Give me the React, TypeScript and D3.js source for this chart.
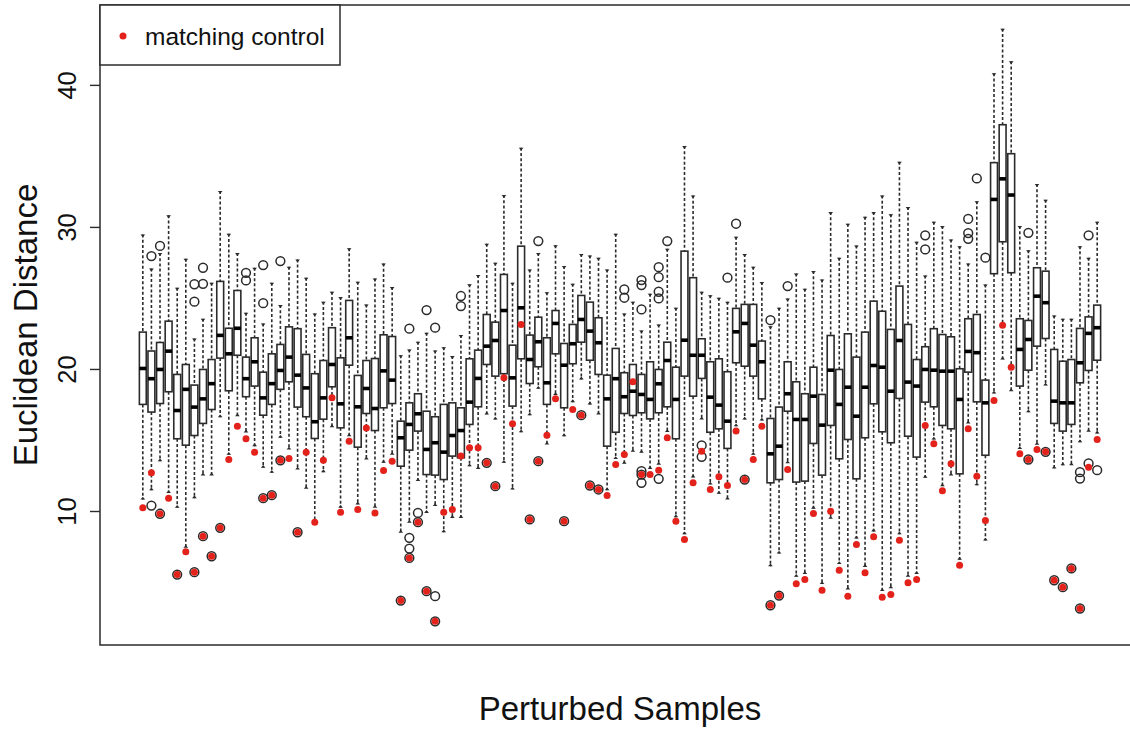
import React from "react";
import * as d3 from "d3";

const width = 1130,
  height = 729;
const plotLeft = 100,
  plotRight = 1140,
  plotTop = 5,
  plotBottom = 645;

const fontFamily = "'Liberation Sans', Arial, Helvetica, sans-serif";
const ink = "#2b2b2b";
const red = "#e3221c";

// one entry per perturbed sample, left to right
const whiskerHigh = [
  29.5, 27.1, 28.2, 30.85, 25.75, 27.8, 22.18, 23.57, 26.1, 32.56,
  29.55, 28.2, 24.0, 27.16, 23.24, 26.1, 24.53, 27.23, 27.75, 26.46,
  23.94, 24.77, 25.47, 25.1, 28.54, 26.17, 24.58, 26.41, 27.46, 25.8,
  21.0, 21.4, 21.95, 22.58, 21.34, 21.57, 20.94, 22.42, 26.0, 26.65,
  28.85, 27.51, 32.28, 26.1, 35.61, 27.04, 28.2, 25.44, 28.75, 27.28,
  26.03, 28.13, 28.03, 27.87, 27.04, 29.55, 23.94, 24.77, 22.75, 25.33,
  23.17, 28.5, 24.34, 35.73, 32.25, 25.47, 25.23, 25.05, 24.77, 29.34,
  28.13, 27.23, 26.15, 23.05, 24.34, 25.0, 26.76, 25.68, 26.93, 26.34,
  31.08, 27.87, 30.26, 28.73, 30.75, 31.08, 32.25, 30.92, 34.63, 31.43,
  28.99, 26.62, 30.4, 30.1, 29.15, 28.68, 27.46, 31.85, 25.99, 40.85,
  43.99, 41.69, 30.1, 28.4, 33.06, 31.95, 23.8, 23.57, 23.57, 28.68,
  27.87, 30.4,
];

const upperQuartile = [
  22.63, 21.3, 21.9, 23.4, 19.65, 20.35, 18.9, 20.0, 20.7, 26.2,
  22.9, 25.56, 20.87, 22.23, 19.81, 21.1, 21.76, 23.0, 22.87, 21.06,
  19.7, 20.63, 22.94, 20.82, 24.86, 19.58, 20.63, 20.77, 22.44, 22.32,
  16.36, 17.65, 18.29, 17.06, 16.67, 17.54, 17.65, 17.3, 20.75, 21.36,
  23.87, 23.33, 26.69, 21.71, 28.68, 22.42, 23.68, 22.23, 24.15, 21.83,
  23.17, 25.21, 24.74, 23.64, 19.6, 21.48, 19.77, 20.35, 19.65, 20.54,
  20.0, 21.92, 20.16, 28.33, 26.46, 22.16, 20.54, 20.75, 19.84, 24.3,
  24.58, 24.58, 22.0, 16.55, 17.35, 20.54, 19.13, 18.29, 20.16, 18.24,
  22.39, 20.0, 22.51, 20.87, 22.63, 24.81, 24.1, 22.82, 25.87, 23.17,
  20.7, 21.6, 22.87, 22.46, 22.3, 20.05, 23.57, 23.87, 19.25, 34.56,
  37.23, 35.19, 23.57, 23.45, 27.16, 26.92, 21.41, 20.58, 20.7, 22.89,
  23.7, 24.53,
];

const medians = [
  20.07, 19.35, 20.0, 21.29, 17.11, 18.6, 17.35, 17.93, 19.0, 22.4,
  21.1, 22.9, 19.35, 20.54, 18.0, 19.0, 19.93, 20.87, 19.6, 18.7,
  16.32, 18.0, 20.35, 17.58, 22.23, 17.37, 18.66, 17.25, 19.9, 19.25,
  15.19, 16.13, 16.88, 14.37, 14.84, 14.18, 15.35, 15.7, 17.7, 19.37,
  21.64, 22.04, 24.15, 19.41, 24.34, 20.7, 21.95, 19.06, 23.24, 20.3,
  21.81, 23.52, 22.7, 21.88, 17.93, 19.35, 18.08, 18.47, 18.24, 17.89,
  18.99, 20.63, 17.89, 22.06, 21.0, 21.0, 18.05, 17.49, 16.36, 22.65,
  23.24, 21.71, 20.54, 14.06, 14.6, 18.29, 16.48, 16.48, 18.12, 16.08,
  19.95, 17.54, 18.75, 16.71, 18.75, 20.28, 20.16, 18.47, 22.04, 19.11,
  18.83, 20.0, 19.95, 19.88, 19.88, 17.89, 21.27, 21.18, 17.65, 31.97,
  33.42, 32.28, 21.41, 22.11, 25.16, 24.7, 17.77, 17.65, 17.65, 20.47,
  22.54, 22.94,
];

const lowerQuartile = [
  17.54, 17.0, 17.6, 18.43, 15.12, 14.67, 15.35, 16.2, 17.18, 20.8,
  18.5, 21.0, 18.08, 18.83, 16.78, 17.54, 18.6, 19.13, 17.35, 16.67,
  15.14, 16.5, 18.78, 15.89, 20.3, 14.53, 16.9, 15.7, 17.3, 17.6,
  13.19, 14.32, 15.66, 12.6, 12.56, 12.25, 13.9, 13.78, 16.13, 17.37,
  20.35, 19.53, 19.7, 17.42, 20.75, 19.01, 20.19, 17.54, 21.1, 17.3,
  20.4, 21.92, 20.65, 19.65, 14.6, 15.58, 16.9, 16.76, 16.95, 16.52,
  16.95, 17.37, 15.12, 19.53, 18.12, 19.37, 15.58, 15.82, 14.44, 20.47,
  20.23, 19.53, 17.93, 12.02, 12.25, 17.06, 12.07, 12.14, 14.79, 12.56,
  16.06, 13.71, 15.07, 12.3, 15.19, 17.58, 15.61, 14.84, 17.96, 15.3,
  13.83, 17.7, 17.37, 16.06, 15.82, 12.65, 19.81, 17.72, 13.96, 26.74,
  28.99, 26.81, 18.83, 19.95, 21.64, 22.18, 16.2, 15.66, 16.13, 19.06,
  19.93, 20.65,
];

const whiskerLow = [
  10.85, 11.5, 13.54, 11.3, 10.26, 7.44, 10.94, 12.54, 12.54, 16.64,
  14.0, 16.7, 15.56, 14.6, 13.08, 12.72, 15.19, 14.37, 12.96, 11.6,
  9.1, 12.77, 15.94, 10.26, 15.3, 10.5, 13.66, 10.26, 13.43, 14.0,
  8.5, 9.2, 12.14, 9.9, 10.38, 8.54, 9.55, 9.55, 13.19, 13.0,
  16.83, 16.48, 13.43, 11.55, 15.58, 16.78, 18.64, 14.72, 18.2, 15.3,
  17.7, 19.3, 17.54, 16.83, 11.5, 13.7, 13.36, 14.2, 14.13, 13.0,
  13.3, 15.6, 9.6, 8.4, 12.4, 16.48, 11.9, 11.25, 10.85, 16.0,
  16.48, 14.0, 16.4, 6.15, 7.04, 13.4, 5.4, 5.6, 10.2, 4.9,
  9.49, 6.3, 4.5, 8.1, 6.1, 8.6, 4.4, 4.6, 8.4, 5.4,
  5.6, 12.37, 15.07, 11.78, 12.54, 6.6, 16.2, 11.85, 7.96, 18.3,
  20.7, 18.47, 14.4, 16.99, 14.7, 18.87, 13.03, 13.26, 13.26, 14.88,
  15.61, 15.5,
];

const outliers = [
  [], [27.98, 10.42], [28.7, 9.84], [], [5.56], [], [26.0, 24.77, 5.73], [27.16, 26.03, 8.26], [6.85], [8.85],
  [], [], [26.8, 26.27], [], [27.35, 24.67, 10.94], [11.15], [27.63, 13.6], [], [8.54], [],
  [], [], [], [], [], [], [], [], [], [],
  [3.73], [22.87, 8.15, 7.39, 6.73], [9.9, 9.25], [24.18, 4.39], [22.94, 4.04, 2.27], [], [], [25.17, 24.46], [], [],
  [13.43], [11.78], [], [], [], [9.44], [29.04, 13.54], [], [], [9.32],
  [], [16.78], [11.83], [11.55], [], [], [25.63, 25.05], [], [26.29, 25.94, 24.23, 12.84, 12.6, 12.02], [],
  [27.2, 26.5, 25.47, 25.0, 12.3], [29.04], [], [], [], [14.65, 13.85], [], [], [26.46], [30.26],
  [12.25], [], [], [23.47, 3.4], [4.08], [25.87], [], [], [], [],
  [], [], [], [], [], [], [], [], [], [],
  [], [29.44, 28.45], [], [], [], [], [30.6, 29.6, 29.2], [33.45], [27.87], [],
  [], [], [], [29.62, 13.66], [], [14.2], [5.16], [4.67], [5.99], [12.77, 12.32, 3.17],
  [29.44, 13.38], [12.91],
];

const matchingControl = [
  10.26, 12.72, 9.84, 10.94, 5.56, 7.16, 5.73, 8.26, 6.85, 8.85,
  13.66, 16.0, 15.12, 14.18, 10.94, 11.15, 13.6, 13.73, 8.54, 14.18,
  9.25, 13.61, 18.0, 9.95, 14.95, 10.14, 15.87, 9.9, 12.89, 13.54,
  3.73, 6.73, 9.25, 4.39, 2.27, 9.95, 10.14, 13.9, 14.48, 14.48,
  13.43, 11.78, 19.41, 16.17, 23.17, 9.44, 13.54, 15.37, 17.93, 9.32,
  17.18, 16.78, 11.83, 11.55, 11.13, 13.31, 14.01, 19.13, 12.6, 12.6,
  12.91, 15.19, 9.32, 8.03, 12.02, 14.25, 11.55, 12.44, 11.83, 15.66,
  12.25, 13.66, 16.0, 3.4, 4.08, 12.96, 4.91, 5.21, 9.86, 4.46,
  10.02, 5.87, 4.04, 7.68, 5.68, 8.22, 3.96, 4.15, 7.98, 4.98,
  5.21, 16.06, 14.77, 11.46, 13.36, 6.22, 15.82, 12.49, 9.37, 17.82,
  23.12, 20.16, 14.06, 13.66, 14.37, 14.2, 5.16, 4.67, 5.99, 3.17,
  13.12, 15.07,
];

const yTicks = [10, 20, 30, 40];

const n = medians.length;
const samples = d3.range(1, n + 1);

// R-style axis padding: 4% on each side
const x = d3
  .scaleLinear()
  .domain([0.5 - 0.04 * n, n + 0.5 + 0.04 * n])
  .range([plotLeft, plotRight]);

const allValues = [
  ...whiskerHigh,
  ...whiskerLow,
  ...outliers.flat(),
  ...matchingControl,
];
const [yMin, yMax] = d3.extent(allValues) as [number, number];
const yPad = (yMax - yMin) * 0.04;
const y = d3
  .scaleLinear()
  .domain([yMin - yPad, yMax + yPad])
  .range([plotBottom, plotTop]);

const boxWidth = 0.8 * (x(2) - x(1));
const stapleHalf = boxWidth * 0.34;

function BoxPlot({ i }: { i: number }) {
  const cx = x(samples[i]);
  const left = cx - boxWidth / 2;
  const yHi = y(whiskerHigh[i]);
  const yLo = y(whiskerLow[i]);
  const yQ3 = y(upperQuartile[i]);
  const yQ1 = y(lowerQuartile[i]);
  const yMed = y(medians[i]);
  return (
    <g>
      <line
        x1={cx}
        x2={cx}
        y1={yHi}
        y2={yQ3}
        stroke={ink}
        strokeWidth={1.6}
        strokeDasharray="3,2.2"
      />
      <line
        x1={cx}
        x2={cx}
        y1={yQ1}
        y2={yLo}
        stroke={ink}
        strokeWidth={1.6}
        strokeDasharray="3,2.2"
      />
      <path
        d={`M${cx - stapleHalf},${yHi}L${cx + stapleHalf},${yHi}L${cx},${yHi + 2.8}Z`}
        fill={ink}
      />
      <path
        d={`M${cx - stapleHalf},${yLo}L${cx + stapleHalf},${yLo}L${cx},${yLo - 2.8}Z`}
        fill={ink}
      />
      <rect
        x={left}
        y={yQ3}
        width={boxWidth}
        height={yQ1 - yQ3}
        fill="white"
        stroke={ink}
        strokeWidth={1.6}
      />
      <line
        x1={left}
        x2={left + boxWidth}
        y1={yMed}
        y2={yMed}
        stroke="#000"
        strokeWidth={3.6}
      />
      {outliers[i].map((v, k) => (
        <circle
          key={k}
          cx={cx}
          cy={y(v)}
          r={4.4}
          fill="none"
          stroke={ink}
          strokeWidth={1.5}
        />
      ))}
    </g>
  );
}

export default function App() {
  return (
    <div style={{ position: "absolute", left: 0, top: 0 }}>
      <svg
        width={width}
        height={height}
        style={{ display: "block", background: "white" }}
        fontFamily={fontFamily}
      >
        {samples.map((_, i) => (
          <BoxPlot key={i} i={i} />
        ))}

        {matchingControl.map((v, i) => (
          <circle key={i} cx={x(samples[i])} cy={y(v)} r={3.5} fill={red} />
        ))}

        {/* frame */}
        <rect
          x={plotLeft}
          y={plotTop}
          width={plotRight - plotLeft}
          height={plotBottom - plotTop}
          fill="none"
          stroke={ink}
          strokeWidth={1.5}
        />

        {/* y axis ticks */}
        {yTicks.map((t) => (
          <g key={t}>
            <line
              x1={plotLeft - 10}
              x2={plotLeft}
              y1={y(t)}
              y2={y(t)}
              stroke={ink}
              strokeWidth={1.4}
            />
            <text
              transform={`translate(75.5,${y(t)}) rotate(-90)`}
              textAnchor="middle"
              fontSize={25.5}
              fill="#111"
            >
              {t}
            </text>
          </g>
        ))}

        <text
          transform={`translate(37,${(plotTop + plotBottom) / 2}) rotate(-90)`}
          textAnchor="middle"
          fontSize={33}
          fill="#111"
        >
          Euclidean Distance
        </text>
        <text
          x={(plotLeft + plotRight) / 2}
          y={719.5}
          textAnchor="middle"
          fontSize={33}
          fill="#111"
        >
          Perturbed Samples
        </text>

        {/* legend */}
        <rect
          x={plotLeft}
          y={plotTop}
          width={240}
          height={60}
          fill="white"
          stroke={ink}
          strokeWidth={1.5}
        />
        <circle cx={123} cy={36} r={3.5} fill={red} />
        <text x={145} y={45} fontSize={24.5} fill="#111">
          matching control
        </text>
      </svg>
    </div>
  );
}
